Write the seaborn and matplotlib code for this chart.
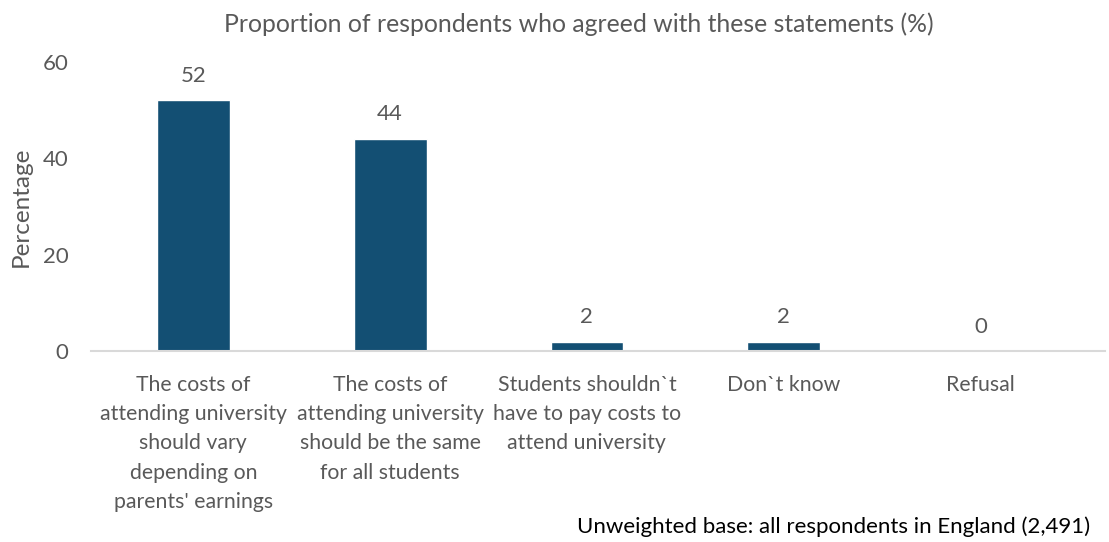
import pandas as pd
import seaborn as sns
import matplotlib.pyplot as plt

# Chart data
categories = [
    "The costs of\nattending university\nshould vary\ndepending on\nparents' earnings",
    "The costs of\nattending university\nshould be the same\nfor all students",
    "Students shouldn`t\nhave to pay costs to\nattend university",
    "Don`t know",
    "Refusal",
]
percentages = [52, 44, 2, 2, 0]
y_ticks = [0, 20, 40, 60]

BAR_COLOR = "#134F73"
TEXT_COLOR = "#595959"

sns.set_style("white")
plt.rcParams["font.family"] = ["Lato", "DejaVu Sans"]

df = pd.DataFrame({"category": categories, "pct": percentages})

fig = plt.figure(figsize=(11.09, 5.42), dpi=100)
ax = fig.add_axes([0.082, 0.352, 0.914, 0.534])

sns.barplot(data=df, x="category", y="pct", color=BAR_COLOR, width=0.37,
            saturation=1, ax=ax)

# value labels above bars
for i, v in enumerate(percentages):
    ax.text(i, v + 3, f"{v}", ha="center", va="bottom",
            fontsize=16, color=TEXT_COLOR)

ax.set_ylim(0, 60)
ax.set_xlim(-0.52, 4.63)
ax.set_yticks(y_ticks)
ax.set_xticks(range(len(categories)))
ax.set_xticklabels(categories, linespacing=1.58, fontsize=15.3)
ax.tick_params(axis="y", labelsize=16)
ax.tick_params(axis="both", length=0, colors=TEXT_COLOR)
ax.tick_params(axis="x", pad=17)
ax.tick_params(axis="y", pad=16)
ax.set_xlabel("")
ax.set_ylabel("Percentage", fontsize=17.5, color=TEXT_COLOR)
ax.yaxis.set_label_coords(-0.058, 0.5)

for side in ["top", "right", "left"]:
    ax.spines[side].set_visible(False)
ax.spines["bottom"].set_color("#D9D9D9")
ax.spines["bottom"].set_linewidth(1.5)

fig.text(0.522, 0.955, "Proportion of respondents who agreed with these statements (%)",
         ha="center", va="center", fontsize=17.8, color=TEXT_COLOR)
fig.text(0.983, 0.028, "Unweighted base: all respondents in England (2,491)",
         ha="right", va="center", fontsize=16, color="black")

fig.savefig("out.png", dpi=100)
